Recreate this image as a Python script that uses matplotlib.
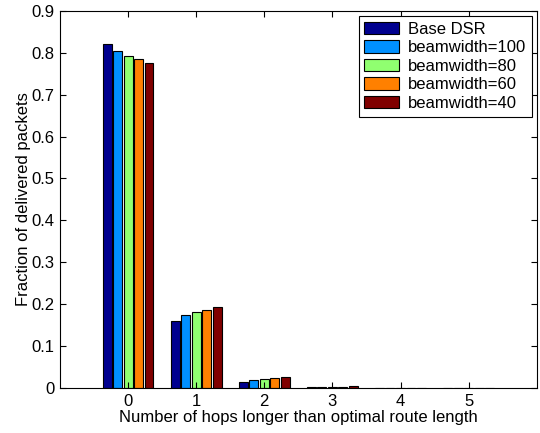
import matplotlib.pyplot as plt
import numpy as np

plt.rcParams["font.family"] = ["Liberation Sans", "DejaVu Sans"]

# 最適経路長より長いホップ数
hops = [0, 1, 2, 3, 4, 5]
series_names = ["Base DSR", "beamwidth=100", "beamwidth=80", "beamwidth=60", "beamwidth=40"]
base_dsr = [0.821, 0.159, 0.015, 0.002, 0.0006, 0.0004]
bw100 = [0.804, 0.174, 0.018, 0.002, 0.0006, 0.0004]
bw80 = [0.792, 0.182, 0.021, 0.003, 0.0007, 0.0005]
bw60 = [0.785, 0.185, 0.024, 0.003, 0.0008, 0.0005]
bw40 = [0.776, 0.193, 0.026, 0.004, 0.0009, 0.0006]
colors = ["#00008f", "#0090ff", "#90ff70", "#ff8000", "#800000"]

fig = plt.figure(figsize=(5.4, 4.33), dpi=100)
ax = fig.add_axes([0.111, 0.104, 0.883, 0.871])

data = [base_dsr, bw100, bw80, bw60, bw40]
n = len(data)
step = 0.77 / n  # グループ内のバー間隔
x = np.array(hops, dtype=float)
for i, (vals, name, c) in enumerate(zip(data, series_names, colors)):
    offset = (i - (n - 1) / 2) * step
    ax.bar(x + offset, vals, width=step * 0.85, color=c, edgecolor="black",
           linewidth=0.8, label=name)

ax.set_xlim(-1, 6)
ax.set_ylim(0, 0.9)
ax.set_xticks(hops)
ax.set_yticks(np.arange(0, 0.91, 0.1))
ax.set_yticklabels(["0", "0.1", "0.2", "0.3", "0.4", "0.5", "0.6", "0.7", "0.8", "0.9"])
ax.tick_params(direction="in", top=True, right=True, labelsize=12, length=4, pad=4)
ax.set_xlabel("Number of hops longer than optimal route length", fontsize=12, labelpad=1)
ax.set_ylabel("Fraction of delivered packets", fontsize=12, labelpad=0)

leg = ax.legend(loc="upper right", fontsize=12, fancybox=False, framealpha=1,
                edgecolor="black", borderaxespad=0.3, handlelength=2.1,
                handleheight=0.8, labelspacing=0.2, borderpad=0.35,
                handletextpad=0.5)
leg.get_frame().set_linewidth(0.8)

plt.savefig("out.png", dpi=100)
plt.close(fig)
